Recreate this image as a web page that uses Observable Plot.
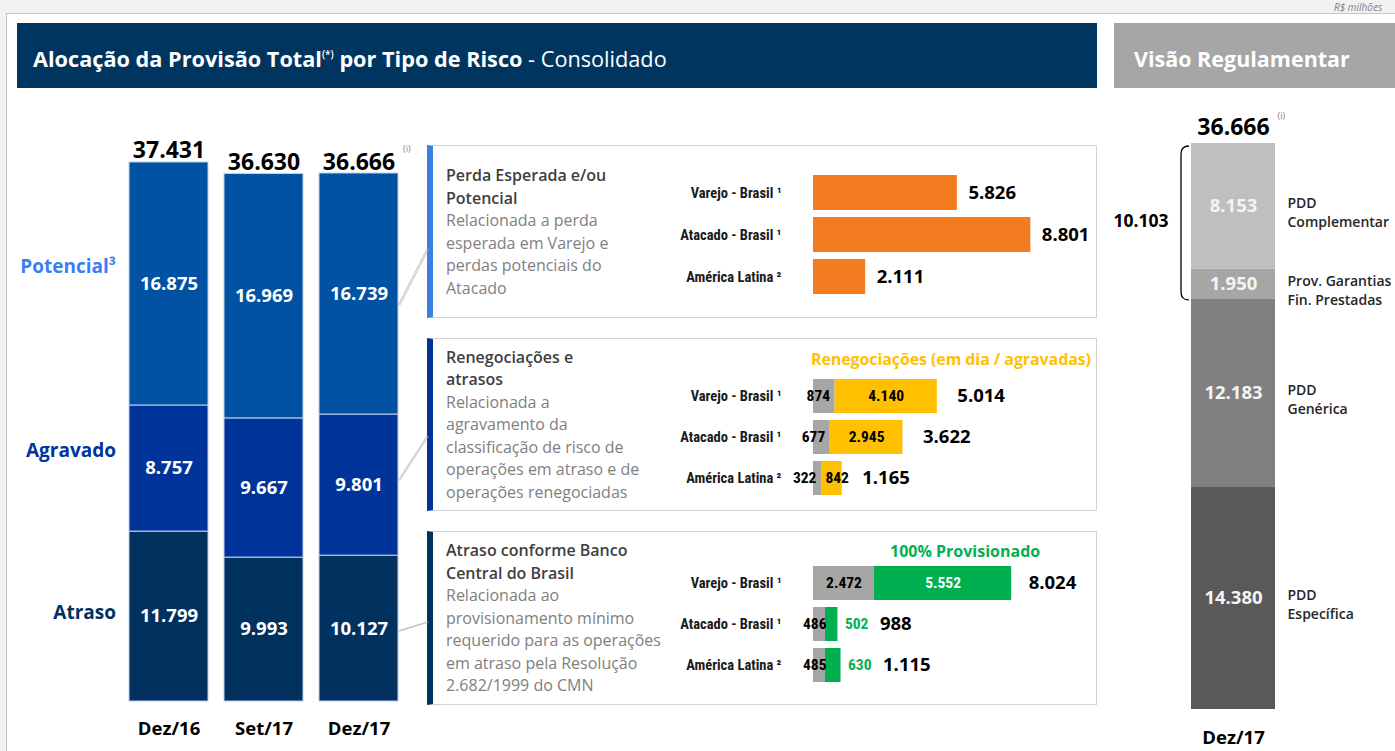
<!DOCTYPE html>
<html><head><meta charset="utf-8">
<script src="https://cdn.jsdelivr.net/npm/d3@7"></script>
<script src="https://cdn.jsdelivr.net/npm/@observablehq/plot@0.6"></script>
<style>
body{margin:0;background:#f2f2f2;font-family:"Open Sans",sans-serif;}
#root{position:relative;width:1395px;height:751px;overflow:hidden;background:#f2f2f2;}
.frame{position:absolute;left:6px;top:13px;width:1400px;height:760px;background:#fff;border:1px solid #c4c4c4;}
.hdr{position:absolute;left:17px;top:23px;width:1080px;height:65px;background:#00355f;color:#fff;font-size:21.7px;display:flex;align-items:center;padding-left:16px;box-sizing:border-box;padding-top:5px;white-space:nowrap;}
.hdr b{font-weight:700;}
.hdr sup{font-size:10px;font-weight:600;vertical-align:9px;line-height:0;}
.hdr2{position:absolute;left:1114px;top:23px;width:300px;height:65px;background:#a6a6a6;color:#fff;font-size:21.5px;font-weight:700;display:flex;align-items:center;padding-left:20px;box-sizing:border-box;padding-top:5px;white-space:nowrap;}
.rs{position:absolute;left:1334px;top:2px;font-size:10px;line-height:10px;font-style:italic;color:#7f7f7f;white-space:nowrap;}
.panel{position:absolute;left:427px;width:670px;background:#fff;border:1px solid #d2d2d2;border-left-width:6px;box-sizing:border-box;}
.ptext{position:absolute;left:446px;width:230px;display:flex;flex-direction:column;justify-content:center;font-size:16px;line-height:22.5px;color:#808080;white-space:nowrap;}
.ptext .t{font-weight:600;color:#404040;}
.note{position:absolute;font-weight:700;font-size:16px;white-space:nowrap;}
.chart{position:absolute;}
</style></head>
<body><div id="root"></div>
<script>
// ---------- data ----------
const periods = ["Dez/16", "Set/17", "Dez/17"];
const riskTypes = ["Atraso", "Agravado", "Potencial"];          // bottom -> top
const riskLabels = ["Atraso", "Agravado", "Potencial³"];
const atraso = [11799, 9993, 10127];
const agravado = [8757, 9667, 9801];
const potencial = [16875, 16969, 16739];
const totals = [37431, 36630, 36666];

const regions = ["Varejo - Brasil ¹", "Atacado - Brasil ¹", "América Latina ²"];
const perdaEsperada = [5826, 8801, 2111];
const renegAtraso = [874, 677, 322];
const renegAgravadas = [4140, 2945, 842];
const renegTotals = [5014, 3622, 1165];
const bcbAtraso = [2472, 486, 485];
const bcbProvisionado = [5552, 502, 630];
const bcbTotals = [8024, 988, 1115];

const regCategories = ["PDD\nEspecífica", "PDD\nGenérica", "Prov. Garantias\nFin. Prestadas", "PDD\nComplementar"];
const regValues = [14380, 12183, 1950, 8153];
const regTotal = 36666;
const regBracket = 10103;
const regPeriod = "Dez/17";

const panelTitles = ["Perda Esperada e/ou\nPotencial", "Renegociações e\natrasos", "Atraso conforme Banco\nCentral do Brasil"];
const panelTexts = [
  "Relacionada a perda\nesperada em Varejo e\nperdas potenciais do\nAtacado",
  "Relacionada a\nagravamento da\nclassificação de risco de\noperações em atraso e de\noperações renegociadas",
  "Relacionada ao\nprovisionamento mínimo\nrequerido para as operações\nem atraso pela Resolução\n2.682/1999 do CMN"
];

// ---------- helpers ----------
const fmt = d3.formatLocale({decimal: ",", thousands: ".", grouping: [3], currency: ["R$", ""]}).format(",d");
const root = document.getElementById("root");
function add(html, cls, style) {
  const el = document.createElement("div");
  if (cls) el.className = cls;
  el.innerHTML = html;
  Object.assign(el.style, style || {});
  root.appendChild(el);
  return el;
}
const FONT = "Open Sans";
const NARROW = "'Liberation Sans Narrow', 'Arial Narrow', 'Roboto Condensed', 'DejaVu Sans Condensed', Roboto, sans-serif";
const svgStyle = {background: "transparent", overflow: "visible", fontFamily: FONT};

// ---------- frame & headers ----------
add("", "frame");
add("R$ milhões", "rs");
add("<b>Alocação da Provisão Total<sup>(*)</sup> por Tipo de Risco</b>&nbsp;- Consolidado", "hdr");
add("Visão Regulamentar", "hdr2");

// ---------- panels ----------
const panelGeo = [
  {top: 145, h: 173, accent: "#3a7fe3", mt: 29, mb: 22, link: 104},
  {top: 338, h: 173, accent: "#003399", mt: 40, mb: 14, link: 98},
  {top: 531, h: 174, accent: "#00325f", mt: 35, mb: 22, link: 91}
];
panelGeo.forEach((g, i) => {
  add("", "panel", {top: g.top + "px", height: g.h + "px", borderLeftColor: g.accent});
  add(`<div class="t">${panelTitles[i].replace(/\n/g, "<br>")}</div><div>${panelTexts[i].replace(/\n/g, "<br>")}</div>`,
      "ptext", {top: g.top + "px", height: g.h + "px"});
});
add("Renegociações (em dia / agravadas)", "note", {left: "811px", top: "348px", color: "#ffc000", letterSpacing: "-0.1px"});
add("100% Provisionado", "note", {left: "890px", top: "540px", color: "#00b050"});

// ---------- left stacked chart ----------
const seriesByRisk = [atraso, agravado, potencial];
const rows = riskTypes.flatMap((r, i) => periods.map((p, j) => ({risk: r, period: p, value: seriesByRisk[i][j]})));
const riskFill = ["#00315f", "#00349b", "#0152a2"];
const riskText = {Atraso: "#00315f", Agravado: "#00349b", Potencial: "#3b7ef2"};
const riskLabelDy = {Atraso: -4, Agravado: -18, Potencial: -17};
const leftTop = 100;
const left = Plot.plot({
  width: 420, height: 651, marginLeft: 128, marginRight: 21, marginTop: 25, marginBottom: 50,
  style: svgStyle,
  x: {domain: periods, paddingInner: 0.167, paddingOuter: 0, axis: null},
  y: {domain: [0, 40000], axis: null},
  color: {domain: riskTypes, range: riskFill},
  marks: [
    Plot.barY(rows, {x: "period", y: "value", fill: "risk", z: "risk", order: riskTypes, stroke: "#bfd0ec", strokeWidth: 1}),
    Plot.text(rows, Plot.stackY({x: "period", y: "value", z: "risk", order: riskTypes,
      text: d => fmt(d.value), fill: "white", fontSize: 18.5, fontWeight: 700})),
    ...riskTypes.map((r, i) =>
      Plot.text(rows.filter(d => d.period === periods[0]), Plot.stackY({x: "period", y: "value", z: "risk", order: riskTypes,
        text: d => d.risk === r ? riskLabels[i] : "", fill: riskText[r],
        textAnchor: "end", dx: -53, dy: riskLabelDy[r], fontSize: 19, fontWeight: 700}))),
    Plot.text(periods, {x: d => d, y: (d, i) => totals[i], text: (d, i) => fmt(totals[i]),
      lineAnchor: "bottom", dy: -4, fontSize: 23, fontWeight: 700, fill: "#000"}),
    Plot.text([periods[2]], {x: d => d, y: totals[2], text: () => "(i)", textAnchor: "start", dx: 44, dy: -24,
      fontSize: 9, fill: "#808080"}),
    Plot.text(periods, {x: d => d, frameAnchor: "bottom", dy: 33, text: d => d, fontSize: 18.5, fontWeight: 700, fill: "#000"})
  ]
});
left.classList.add("chart");
left.style.left = "0px"; left.style.top = leftTop + "px";
root.appendChild(left);

// ---------- panel charts ----------
const PX = 660, PW = 437, PML = 153, XMAX = 11500;
const pxPerUnit = (PW - PML) / XMAX;
const wide = v => v * pxPerUnit > 40;
function panelPlot(g, marks, colorOpt) {
  const p = Plot.plot({
    width: PW, height: g.h, marginLeft: PML, marginRight: 0, marginTop: g.mt, marginBottom: g.mb,
    style: svgStyle,
    x: {domain: [0, XMAX], axis: null},
    y: {domain: regions, paddingInner: 0.16, paddingOuter: 0, axis: null},
    color: colorOpt,
    marks: [
      Plot.text(regions, {y: d => d, x: 0, text: d => d, textAnchor: "end", dx: -32,
        fontFamily: NARROW, fontSize: 14.5, fontWeight: 700, fill: "#1a1a1a"}),
      ...marks
    ]
  });
  p.classList.add("chart");
  p.style.left = PX + "px"; p.style.top = g.top + "px";
  root.appendChild(p);
  return p;
}
const totalFont = {fontSize: 18.5, fontWeight: 700, fill: "#000", textAnchor: "start"};
const inFont = {fontFamily: NARROW, fontSize: 15.5, fontWeight: 700};

// panel 1
const p1rows = regions.map((r, i) => ({region: r, value: perdaEsperada[i]}));
panelPlot(panelGeo[0], [
  Plot.barX(p1rows, {x: "value", y: "region", fill: "#f47b20"}),
  Plot.text(p1rows, {x: "value", y: "region", text: d => fmt(d.value), dx: 11, ...totalFont})
]);

// panel 2
const p2parts = ["Atraso", "Renegociada"];
const p2rows = regions.flatMap((r, i) => [
  {region: r, part: p2parts[0], value: renegAtraso[i], base: 0},
  {region: r, part: p2parts[1], value: renegAgravadas[i], base: renegAtraso[i]}
]);
const p2tot = regions.map((r, i) => ({region: r, value: renegTotals[i]}));
panelPlot(panelGeo[1], [
  Plot.barX(p2rows, {x: "value", y: "region", fill: "part", z: "part", order: p2parts}),
  Plot.text(p2rows.filter(d => d.part === p2parts[0]), {x: "value", y: "region", text: d => fmt(d.value),
    textAnchor: "end", dx: -5, fill: "#000", ...inFont}),
  Plot.text(p2rows, Plot.stackX({x: "value", y: "region", z: "part", order: p2parts,
    text: d => d.part === p2parts[1] && wide(d.value) ? fmt(d.value) : "", fill: "#000", ...inFont})),
  Plot.text(p2rows.filter(d => d.part === p2parts[1] && !wide(d.value)), {x: "base", y: "region",
    text: d => fmt(d.value), textAnchor: "start", dx: 4, fill: "#000", ...inFont}),
  Plot.text(p2tot, {x: "value", y: "region", text: d => fmt(d.value), dx: 20, ...totalFont})
], {domain: p2parts, range: ["#a6a6a6", "#ffc000"]});

// panel 3
const p3parts = ["Atraso", "Provisionado"];
const p3rows = regions.flatMap((r, i) => [
  {region: r, part: p3parts[0], value: bcbAtraso[i], total: bcbTotals[i]},
  {region: r, part: p3parts[1], value: bcbProvisionado[i], total: bcbTotals[i]}
]);
const p3tot = regions.map((r, i) => ({region: r, value: bcbTotals[i], wide: wide(bcbProvisionado[i])}));
panelPlot(panelGeo[2], [
  Plot.barX(p3rows, {x: "value", y: "region", fill: "part", z: "part", order: p3parts}),
  Plot.text(p3rows, Plot.stackX({x: "value", y: "region", z: "part", order: p3parts,
    text: d => wide(d.value) ? fmt(d.value) : "", fill: d => d.part === p3parts[0] ? "#000" : "#fff", ...inFont})),
  Plot.text(p3rows.filter(d => d.part === p3parts[0] && !wide(d.value)), {x: "value", y: "region",
    text: d => fmt(d.value), textAnchor: "end", dx: 1, fill: "#000", ...inFont}),
  Plot.text(p3rows.filter(d => d.part === p3parts[1] && !wide(d.value)), {x: d => d.total, y: "region",
    text: d => fmt(d.value), textAnchor: "start", dx: 7, fill: "#00b050", ...inFont}),
  Plot.text(p3tot.filter(d => d.wide), {x: "value", y: "region", text: d => fmt(d.value), dx: 17, ...totalFont}),
  Plot.text(p3tot.filter(d => !d.wide), {x: "value", y: "region", text: d => fmt(d.value), dx: 42, ...totalFont})
], {domain: p3parts, range: ["#a6a6a6", "#00b050"]});

// ---------- right regulatory chart ----------
const regRows = regCategories.map((c, i) => ({period: regPeriod, cat: c, value: regValues[i]}));
const RX = 1100, RTop = 100;
const right = Plot.plot({
  width: 295, height: 651, marginLeft: 91, marginRight: 120, marginTop: 22.4, marginBottom: 42,
  style: svgStyle,
  x: {domain: [regPeriod], padding: 0, axis: null},
  y: {domain: [0, 38000], axis: null},
  color: {domain: regCategories, range: ["#595959", "#808080", "#a6a6a6", "#bfbfbf"]},
  marks: [
    Plot.barY(regRows, {x: "period", y: "value", fill: "cat", z: "cat", order: regCategories}),
    Plot.text(regRows, Plot.stackY({x: "period", y: "value", z: "cat", order: regCategories,
      text: d => fmt(d.value), fill: "#f4f4f4", fontSize: 18.5, fontWeight: 700})),
    Plot.text(regRows, Plot.stackY({x: "period", y: "value", z: "cat", order: regCategories,
      text: "cat", textAnchor: "start", dx: 54, dy: 5, lineHeight: 1.35, fontSize: 14, fontWeight: 600, fill: "#262626"})),
    Plot.text([regTotal], {x: () => regPeriod, y: d => d, text: d => fmt(d), lineAnchor: "bottom", dy: -8,
      fontSize: 23, fontWeight: 700, fill: "#000"}),
    Plot.text([regTotal], {x: () => regPeriod, y: d => d, text: () => "(i)", textAnchor: "start", dx: 44, dy: -27,
      fontSize: 9, fill: "#808080"}),
    Plot.text([regTotal - regBracket / 2], {x: () => regPeriod, y: d => d, text: () => fmt(regBracket),
      textAnchor: "end", dx: -65, dy: 0, fontSize: 17.5, fontWeight: 700, fill: "#000"}),
    Plot.text([regPeriod], {x: d => d, frameAnchor: "bottom", dy: 34, text: d => d, fontSize: 18.5, fontWeight: 700, fill: "#000"})
  ]
});
right.classList.add("chart");
right.style.left = RX + "px"; right.style.top = RTop + "px";
root.appendChild(right);

// bracket drawn from the right chart's scales
{
  const xs = right.scale("x"), ys = right.scale("y");
  const bx = xs.apply(regPeriod);
  const xl = bx - 10, xr = bx - 2;
  const yt = ys.apply(regTotal) + 3, yb = ys.apply(regTotal - regBracket) + 1;
  const r = 8;
  d3.select(right).append("path")
    .attr("d", `M${xr},${yt} Q${xl},${yt} ${xl},${yt + r} L${xl},${yb - r} Q${xl},${yb} ${xr},${yb}`)
    .attr("fill", "none").attr("stroke", "#000").attr("stroke-width", 1.3);
}

// ---------- connectors from Dez/17 segments to panels ----------
{
  const xs = left.scale("x"), ys = left.scale("y");
  const x0 = xs.apply(periods[2]) + xs.bandwidth;
  const j = 2;
  let cum = 0;
  const ov = d3.select(root).append("svg").attr("width", 1395).attr("height", 751)
    .style("position", "absolute").style("left", 0).style("top", 0).style("pointer-events", "none");
  const startOff = [3, -4, 12];
  const panelFor = [2, 1, 0];
  riskTypes.forEach((r, i) => {
    const v = seriesByRisk[i][j];
    const mid = ys.apply(cum + v / 2) + leftTop + startOff[i];
    cum += v;
    const g = panelGeo[panelFor[i]];
    const ty = g.top + g.link;
    [0, 1.6].forEach(o => ov.append("line")
      .attr("x1", x0 + o).attr("y1", mid).attr("x2", 427 + o).attr("y2", ty)
      .attr("stroke", "#b4b4b4").attr("stroke-width", 0.8));
  });
}
</script>
</body></html>
